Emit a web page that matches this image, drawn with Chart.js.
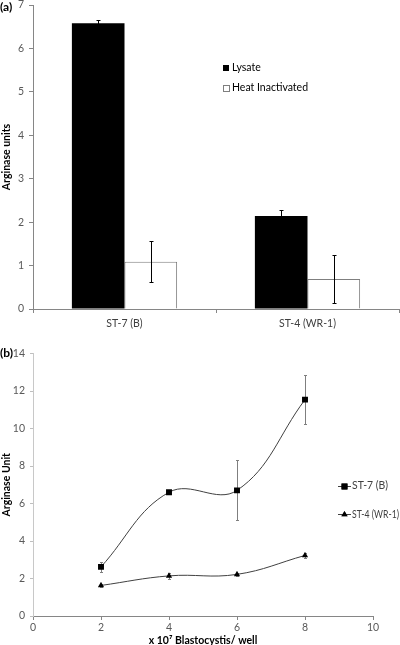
<!DOCTYPE html>
<html><head><meta charset="utf-8">
<script src="https://cdn.jsdelivr.net/npm/chart.js@4/dist/chart.umd.min.js"></script>
<style>
html,body{margin:0;padding:0;background:#fff;}
#wrap{position:relative;width:400px;height:645px;overflow:hidden;}
canvas{display:block;}
.pl{position:absolute;left:0;font:bold 12px Lato,"Open Sans",sans-serif;color:#000;line-height:14px;}
</style></head><body>
<div id="wrap">
<canvas id="ca" width="400" height="330"></canvas>
<canvas id="cb" width="400" height="316"></canvas>
<div class="pl" style="top:0px;">(a)</div>
<div class="pl" style="top:346px;">(b)</div>
</div>
<script>
// ---- data (a) ----
const barCategories = ['ST-7 (B)', 'ST-4 (WR-1)'];
const lysateValues = [6.58, 2.14];
const lysateErrors = [0.07, 0.15];
const heatValues = [1.09, 0.69];
const heatErrors = [0.47, 0.56];
const barYTicks = [0, 1, 2, 3, 4, 5, 6, 7];

// ---- data (b) ----
const cellCounts = [2, 4, 6, 8];
const st7Values = [2.62, 6.60, 6.70, 11.54];
const st7Errors = [0.25, 0.08, 1.60, 1.30];
const st4Values = [1.63, 2.14, 2.22, 3.23];
const st4Errors = [0.06, 0.15, 0.08, 0.15];
const lineXTicks = [0, 2, 4, 6, 8, 10];
const lineYTicks = [0, 2, 4, 6, 8, 10, 12, 14];

const FONT = 'Lato, "Open Sans", sans-serif';
Chart.defaults.font.family = FONT;
Chart.defaults.font.size = 10.5;
Chart.defaults.color = '#595959';

const errorBarPlugin = {
  id: 'errorBars',
  draw(chart) {
    const ctx = chart.ctx;
    const yScale = chart.scales.y;
    chart.data.datasets.forEach((ds, di) => {
      if (!ds.errors) return;
      const meta = chart.getDatasetMeta(di);
      ctx.save();
      ctx.strokeStyle = ds.errorColor || '#000';
      ctx.lineWidth = 1;
      meta.data.forEach((el, i) => {
        const raw = ds.data[i];
        const v = typeof raw === 'object' ? raw.y : raw;
        const e = ds.errors[i];
        const x = Math.round(el.x) + 0.5;
        const yTop = Math.round(yScale.getPixelForValue(v + e)) + 0.5;
        const yBot = Math.round(yScale.getPixelForValue(v - e)) + 0.5;
        const c = ds.errorCap || 2;
        ctx.beginPath();
        ctx.moveTo(x, yTop); ctx.lineTo(x, yBot);
        ctx.moveTo(x - c, yTop); ctx.lineTo(x + c, yTop);
        ctx.moveTo(x - c, yBot); ctx.lineTo(x + c, yBot);
        ctx.stroke();
      });
      ctx.restore();
    });
  },
  afterDatasetsDraw(chart, args, opts) { if (opts.layer === 'after') this.draw(chart); },
  beforeDatasetsDraw(chart, args, opts) { if (opts.layer === 'before') this.draw(chart); }
};

const legendA = {
  id: 'legendA',
  afterDraw(chart) {
    const ctx = chart.ctx;
    ctx.save();
    ctx.font = '10.5px ' + FONT;
    ctx.textBaseline = 'middle';
    ctx.fillStyle = '#000';
    ctx.fillRect(223, 65, 6, 6);
    ctx.fillText(chart.data.datasets[0].label, 232, 68);
    ctx.fillStyle = '#fff';
    ctx.fillRect(223.5, 85.5, 6, 6);
    ctx.strokeStyle = '#7f7f7f';
    ctx.lineWidth = 1;
    ctx.strokeRect(223.5, 85.5, 6, 6);
    ctx.fillStyle = '#000';
    ctx.fillText(chart.data.datasets[1].label, 232, 88);
    ctx.restore();
  }
};

const legendB = {
  id: 'legendB',
  afterDraw(chart) {
    const ctx = chart.ctx;
    ctx.save();
    ctx.font = '10.5px ' + FONT;
    ctx.textBaseline = 'middle';
    const items = [[chart.data.datasets[0], 155.5, 36], [chart.data.datasets[1], 184, 47]];
    items.forEach(([ds, y, w]) => {
      ctx.strokeStyle = '#404040';
      ctx.lineWidth = 1;
      ctx.beginPath();
      ctx.moveTo(338, Math.round(y) + 0.5); ctx.lineTo(351, Math.round(y) + 0.5);
      ctx.stroke();
      Chart.helpers.drawPoint(ctx, {pointStyle: ds.pointStyle, radius: ds.pointRadius, borderWidth: 0}, 344.5, Math.round(y) + 0.5);
      ctx.fillStyle = '#000';
      ctx.fill();
      ctx.fillStyle = '#404040';
      ctx.textAlign = 'left';
      ctx.fillText(ds.label, 352, y + 0.5, w);
    });
    ctx.restore();
  }
};

function setTicks(arr) {
  return function (scale) { scale.ticks = arr.map(v => ({value: v})); };
}

// ---- chart (a) ----
new Chart(document.getElementById('ca'), {
  type: 'bar',
  data: {
    labels: barCategories,
    datasets: [
      {label: 'Lysate', data: lysateValues, errors: lysateErrors, errorColor: '#000', errorCap: 2,
       backgroundColor: '#000', borderColor: '#000', borderWidth: 0,
       categoryPercentage: 0.575, barPercentage: 1.0},
      {label: 'Heat Inactivated', data: heatValues, errors: heatErrors, errorColor: '#000', errorCap: 2,
       backgroundColor: '#fff', borderColor: '#7f7f7f', borderWidth: 1,
       categoryPercentage: 0.575, barPercentage: 1.0}
    ]
  },
  options: {
    responsive: false, animation: false, devicePixelRatio: 1,
    layout: {padding: {top: 5, right: 1, left: 0, bottom: 0}},
    plugins: {legend: {display: false}, tooltip: {enabled: false}, errorBars: {layer: 'after'}},
    scales: {
      x: {
        grid: {display: true, drawOnChartArea: false, drawTicks: true, tickLength: 4, color: '#868686'},
        border: {color: '#868686'},
        ticks: {color: '#404040', padding: 4},
        afterFit(s) { s.height = 21; s.paddingLeft = 0; s.paddingRight = 0; }
      },
      y: {
        min: 0, max: 7,
        afterBuildTicks: setTicks(barYTicks),
        grid: {display: true, drawOnChartArea: false, drawTicks: true, tickLength: 4, color: '#868686'},
        border: {color: '#868686'},
        ticks: {color: '#595959', padding: 5},
        title: {display: true, text: 'Arginase units', color: '#000', font: {weight: 'bold', size: 10.5}, padding: 0},
        afterFit(s) { s.width = 33; s.paddingTop = 0; s.paddingBottom = 0; }
      }
    }
  },
  plugins: [errorBarPlugin, legendA]
});

// ---- chart (b) ----
new Chart(document.getElementById('cb'), {
  type: 'line',
  data: {
    datasets: [
      {label: 'ST-7 (B)', data: cellCounts.map((x, i) => ({x: x, y: st7Values[i]})),
       errors: st7Errors, errorColor: '#7f7f7f', errorCap: 1.5,
       borderColor: '#404040', borderWidth: 1, tension: 0.4,
       pointStyle: 'rect', pointRadius: 4.2, pointBackgroundColor: '#000', pointBorderWidth: 0},
      {label: 'ST-4 (WR-1)', data: cellCounts.map((x, i) => ({x: x, y: st4Values[i]})),
       errors: st4Errors, errorColor: '#7f7f7f', errorCap: 1.5,
       borderColor: '#404040', borderWidth: 1, tension: 0.4,
       pointStyle: 'triangle', pointRadius: 3.6, pointBackgroundColor: '#000', pointBorderWidth: 0}
    ]
  },
  options: {
    responsive: false, animation: false, devicePixelRatio: 1,
    layout: {padding: {top: 23.5, right: 27, left: 0, bottom: 0}},
    plugins: {legend: {display: false}, tooltip: {enabled: false}, errorBars: {layer: 'before'}},
    scales: {
      x: {
        type: 'linear', min: 0, max: 10,
        afterBuildTicks: setTicks(lineXTicks),
        grid: {display: true, drawOnChartArea: false, drawTicks: true, tickLength: 4, color: '#868686'},
        border: {color: '#868686'},
        ticks: {color: '#595959', padding: 1},
        title: {display: true, text: 'x 10\u2077 Blastocystis/ well', color: '#000', font: {weight: 'bold', size: 10.5, lineHeight: 1.1}, padding: 0},
        afterFit(s) { s.height = 30; s.paddingLeft = 0; s.paddingRight = 0; }
      },
      y: {
        type: 'linear', min: 0, max: 14,
        afterBuildTicks: setTicks(lineYTicks),
        grid: {display: true, drawOnChartArea: false, drawTicks: true, tickLength: 3, color: '#bfbfbf'},
        border: {color: '#c8c8c8'},
        ticks: {color: '#595959', padding: 5},
        title: {display: true, text: 'Arginase Unit', color: '#000', font: {weight: 'bold', size: 10.5}, padding: 0},
        afterFit(s) { s.width = 33; s.paddingTop = 0; s.paddingBottom = 0; }
      }
    }
  },
  plugins: [errorBarPlugin, legendB]
});
</script>
</body></html>
